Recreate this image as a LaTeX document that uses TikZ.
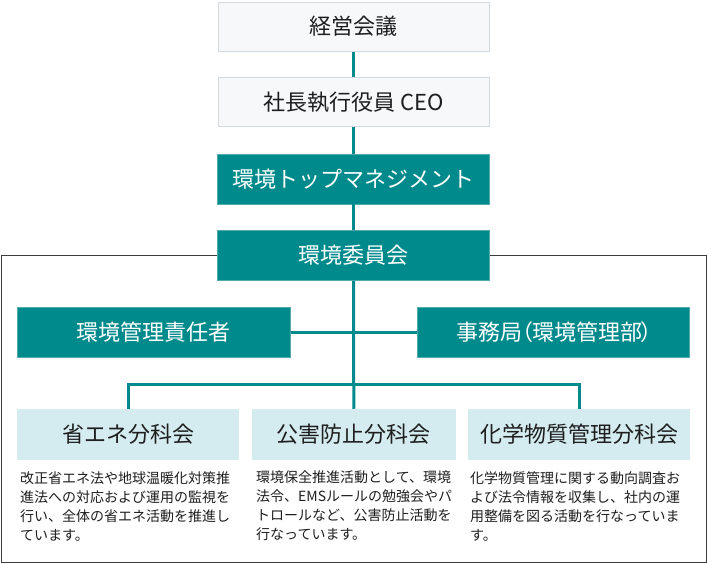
\documentclass[tikz,border=0pt]{standalone}
\usepackage{fontspec}
\setmainfont{Noto Sans CJK JP}
\definecolor{tealc}{RGB}{0,138,140}
\definecolor{tealedge}{RGB}{80,170,172}
\definecolor{gfill}{RGB}{246,248,250}
\definecolor{gborder}{RGB}{210,218,225}
\definecolor{lblue}{RGB}{212,235,240}
\definecolor{txt}{RGB}{30,30,30}
\definecolor{framec}{RGB}{60,60,60}
\begin{document}
\begin{tikzpicture}[x=1pt,y=-1pt,
  greybox/.style={draw=gborder, fill=gfill, line width=1pt, minimum width=271pt, minimum height=49pt, inner sep=0pt, font=\fontsize{22}{26}\selectfont, text=txt},
  tealbox/.style={draw=tealedge, fill=tealc, line width=0.8pt, minimum height=50pt, inner sep=0pt, font=\fontsize{22}{26}\selectfont, text=white},
  bluebox/.style={fill=lblue, minimum height=50.7pt, inner sep=0pt, font=\fontsize{22}{26}\selectfont, text=txt},
  desc/.style={anchor=north west, inner sep=0pt, align=left, font=\fontsize{14}{19}\selectfont, text=txt},
  link/.style={draw=tealc, line width=3pt, line join=miter},
  framebox/.style={draw=framec, line width=1pt, inner sep=0pt}
]
\useasboundingbox (0,0) rectangle (707,564);

\node[framebox, minimum width=704.3pt, minimum height=306pt] (frame) at (353.85,409) {};

\node[greybox] (n1) at (353.5,26.6) {経営会議};
\node[greybox] (n2) at (353.5,102.5) {社長執行役員 CEO};
\node[tealbox, minimum width=272pt] (n3) at (353.5,179) {環境トップマネジメント};
\node[tealbox, minimum width=272pt] (n4) at (353.5,255.5) {環境委員会};
\node[tealbox, minimum width=273pt] (n5) at (153.8,332.2) {環境管理責任者};
\node[tealbox, minimum width=272.4pt] (n6) at (553.5,332.2) {事務局\kern-11pt（\kern-1pt環境管理部\kern-2pt）\kern-12pt};

\node[bluebox, minimum width=222pt] (b1) at (128.3,434.3) {省エネ分科会};
\node[bluebox, minimum width=204.3pt] (b2) at (353.8,434.3) {公害防止分科会};
\node[bluebox, minimum width=221.7pt] (b3) at (579.2,434.3) {化学物質管理分科会};

\coordinate (br) at (353.8,384.8);

\draw[link] (n1.south) -- (n2.north);
\draw[link] (n2.south) -- (n3.north);
\draw[link] (n3.south) -- (n4.north);
\draw[link] (n4.south) -- (b2.north);
\draw[link] (n5.east) -- (n6.west);
\draw[link] (b1.north) |- (br) -| (b3.north);

\node[desc] (d1) at (20,471) {改正省エネ法や地球温暖化対策推\\進法への対応および運用の監視を\\行い、全体の省エネ活動を推進し\\ています。};
\node[desc] (d2) at (256,471) {環境保全推進活動として、環境\\法令、EMSルールの勉強会やパ\\トロールなど、公害防止活動を\\行なっています。};
\node[desc] (d3) at (470,471) {化学物質管理に関する動向調査お\\よび法令情報を収集し、社内の運\\用整備を図る活動を行なっていま\\す。};
\end{tikzpicture}
\end{document}
